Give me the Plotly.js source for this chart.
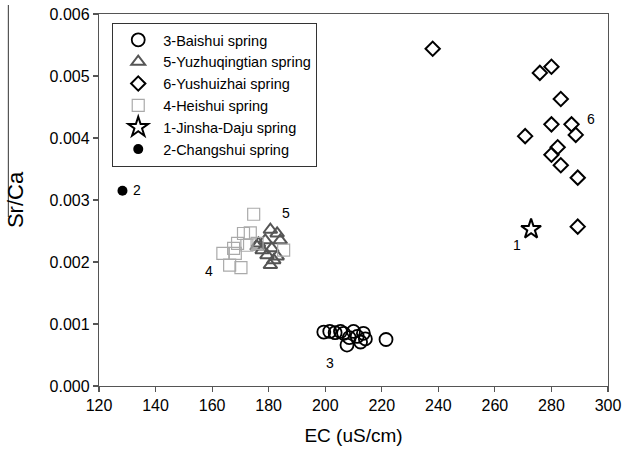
<!DOCTYPE html>
<html>
<head>
<meta charset="utf-8">
<script src="https://cdn.plot.ly/plotly-3.0.1.min.js"></script>
<style>html,body{margin:0;padding:0;background:#fff;}#chart{width:635px;height:449px;}</style>
</head>
<body>
<div id="chart"></div>
<script>
// Series names
var seriesNames = ["3-Baishui spring", "5-Yuzhuqingtian spring", "6-Yushuizhai spring", "4-Heishui spring", "1-Jinsha-Daju spring", "2-Changshui spring"];

// 3-Baishui
var baishuiEC = [199.5, 201.6, 203.5, 205.4, 206.5, 207.7, 208.5, 210.0, 211.3, 212.5, 213.5, 214.2, 221.5];
var baishuiSr = [0.00087, 0.00088, 0.00086, 0.00088, 0.00085, 0.00066, 0.00078, 0.00088, 0.00080, 0.00071, 0.00085, 0.00076, 0.00075];

// 5-Yuzhuqingtian
var yuzhuEC = [180.6, 183.0, 178.8, 176.4, 181.1, 177.7, 179.4, 181.8, 180.6, 183.0, 184.1, 175.9];
var yuzhuSr = [0.00252, 0.00246, 0.00235, 0.00230, 0.00222, 0.00219, 0.00211, 0.00203, 0.00195, 0.00209, 0.00235, 0.00225];

// 6-Yushuizhai
var yushuiEC = [238.0, 275.9, 280.0, 283.3, 280.0, 287.1, 288.6, 270.7, 282.2, 280.0, 283.3, 289.3, 289.3];
var yushuiSr = [0.00544, 0.00505, 0.00515, 0.00463, 0.00422, 0.00422, 0.00405, 0.00403, 0.00385, 0.00373, 0.00356, 0.00336, 0.00257];

// 4-Heishui
var heishuiEC = [174.7, 171.1, 173.5, 169.0, 167.6, 163.8, 168.2, 172.3, 166.2, 170.2, 185.3, 175.9];
var heishuiSr = [0.00277, 0.00246, 0.00247, 0.00230, 0.00222, 0.00214, 0.00214, 0.00227, 0.00195, 0.00191, 0.00219, 0.00230];

// 1-Jinsha-Daju
var jinshaEC = [272.8];
var jinshaSr = [0.00253];

// 2-Changshui
var changEC = [128.3];
var changSr = [0.00315];

// Point labels
var labelText = ["1", "2", "3", "4", "5", "6"];
var labelEC = [267.7, 133.5, 201.8, 159.0, 186.3, 294.0];
var labelSr = [0.00227, 0.00316, 0.00037, 0.00185, 0.00279, 0.00431];

var xTicks = [120, 140, 160, 180, 200, 220, 240, 260, 280, 300];
var yTicks = [0, 0.001, 0.002, 0.003, 0.004, 0.005, 0.006];

var FONT = "Liberation Sans, Arial, sans-serif";

var traces = [
  {x: baishuiEC, y: baishuiSr, name: seriesNames[0], type: "scatter", mode: "markers",
   marker: {symbol: "circle-open", size: 13, color: "#000", line: {width: 1.8, color: "#000"}}},
  {x: yuzhuEC, y: yuzhuSr, name: seriesNames[1], type: "scatter", mode: "markers",
   marker: {symbol: "triangle-up-open", size: 12, color: "#555", line: {width: 2, color: "#555"}}},
  {x: yushuiEC, y: yushuiSr, name: seriesNames[2], type: "scatter", mode: "markers",
   marker: {symbol: "diamond-open", size: 11, color: "#000", line: {width: 2, color: "#000"}}},
  {x: heishuiEC, y: heishuiSr, name: seriesNames[3], type: "scatter", mode: "markers",
   marker: {symbol: "square-open", size: 12, color: "#aaa", line: {width: 1.2, color: "#aaa"}}},
  {x: jinshaEC, y: jinshaSr, name: seriesNames[4], type: "scatter", mode: "markers",
   marker: {symbol: "star-open", size: 15, color: "#000", line: {width: 2, color: "#000"}}},
  {x: changEC, y: changSr, name: seriesNames[5], type: "scatter", mode: "markers",
   marker: {symbol: "circle", size: 10, color: "#000"}}
];

var annotations = labelText.map(function (t, i) {
  return {x: labelEC[i], y: labelSr[i], xref: "x", yref: "y", text: t, showarrow: false,
          font: {family: FONT, size: 14, color: "#000"}};
});

var layout = {
  width: 635, height: 449,
  margin: {l: 99, r: 27, t: 14, b: 63},
  paper_bgcolor: "#fff", plot_bgcolor: "#fff",
  font: {family: FONT, color: "#000"},
  showlegend: true,
  legend: {x: 0.026, y: 0.976, xanchor: "left", yanchor: "top", itemwidth: 40,
           bgcolor: "#fff", bordercolor: "#333", borderwidth: 1,
           font: {family: FONT, size: 14.5, color: "#000"}, tracegroupgap: 0},
  xaxis: {range: [120, 300], tickvals: xTicks, ticktext: xTicks.map(String),
          showgrid: false, zeroline: false, showline: true, linecolor: "#555", linewidth: 1.2, mirror: true,
          ticks: "outside", ticklen: 5, tickcolor: "#555", tickwidth: 1.2,
          tickfont: {family: FONT, size: 16, color: "#000"},
          title: {text: "EC (uS/cm)", font: {family: FONT, size: 19, color: "#000"}, standoff: 15}},
  yaxis: {range: [0, 0.006], tickvals: yTicks, ticktext: yTicks.map(function (v) { return v.toFixed(3); }),
          showgrid: false, zeroline: false, showline: true, linecolor: "#555", linewidth: 1.2, mirror: true,
          ticks: "outside", ticklen: 5, tickcolor: "#555", tickwidth: 1.2,
          tickfont: {family: FONT, size: 16, color: "#000"},
          title: {text: "Sr/Ca", font: {family: FONT, size: 22, color: "#000"}, standoff: 19}},
  annotations: annotations,
  shapes: [{type: "line", xref: "paper", yref: "paper", x0: -0.178, x1: -0.178, y0: 1.024, y1: 0.454,
            line: {color: "#555", width: 1.2}}]
};

Plotly.newPlot("chart", traces, layout, {displayModeBar: false, staticPlot: true});
</script>
</body>
</html>
